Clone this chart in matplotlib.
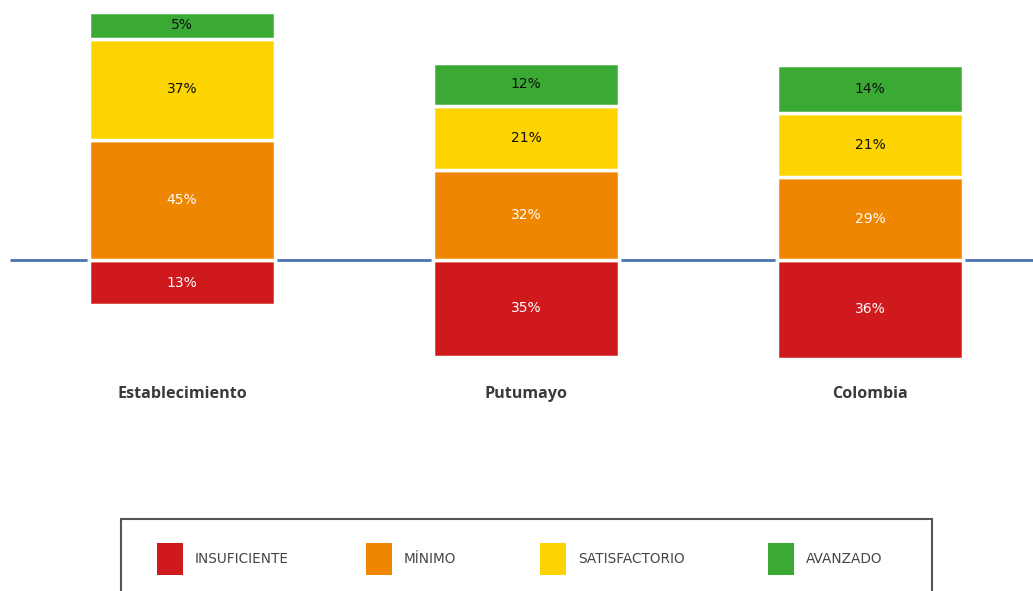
import matplotlib
matplotlib.use("Agg")
import matplotlib.pyplot as plt
from matplotlib.patches import Rectangle

# datos
categorias = ["Establecimiento", "Putumayo", "Colombia"]
niveles = ["INSUFICIENTE", "MÍNIMO", "SATISFACTORIO", "AVANZADO"]
insuficiente = [13, 35, 36]
minimo = [45, 32, 29]
satisfactorio = [37, 21, 21]
avanzado = [5, 12, 14]

colores = ["#D0191C", "#EE8600", "#FDD400", "#3BAA35"]
color_texto = ["white", "white", "#111111", "#111111"]
PAD = 6.6   # relleno minimo de cada segmento (estilo del original)
COND = ["Liberation Sans Narrow", "DejaVu Sans"]

fig = plt.figure(figsize=(10.33, 5.91), dpi=100)
ax = fig.add_axes([0, 0, 1, 1])
ax.set_xlim(-0.529, 2.474)
ax.set_ylim(-142.4, 111.8)
ax.axis("off")

x = list(range(len(categorias)))
ancho = 0.541

# linea base
ax.plot([-0.50, 2.474], [0, 0], color="#4A74B0", lw=2, zorder=1,
        solid_capstyle="butt")

# insuficiente hacia abajo
for i in x:
    h = insuficiente[i] + PAD
    ax.bar(i, -h, width=ancho, color=colores[0], edgecolor="white",
           linewidth=2.5, zorder=2)
    ax.text(i, -h / 2, f"{insuficiente[i]}%", ha="center", va="center",
            color=color_texto[0], fontsize=10, family=COND, zorder=3)

# resto apilado hacia arriba
arriba = [minimo, satisfactorio, avanzado]
for i in x:
    base = 0
    for k, serie in enumerate(arriba, start=1):
        h = serie[i] + PAD
        ax.bar(i, h, bottom=base, width=ancho, color=colores[k],
               edgecolor="white", linewidth=2.5, zorder=2)
        ax.text(i, base + h / 2, f"{serie[i]}%", ha="center", va="center",
                color=color_texto[k], fontsize=10, family=COND, zorder=3)
        base += h

# nombres de categorias
for i, nombre in zip(x, categorias):
    ax.text(i, -57.5, nombre, ha="center", va="center", fontsize=11.6,
            fontweight="bold", color="#3a3a3a", family="Open Sans")

# leyenda manual
W, H = 1033.0, 591.0
fig.patches.append(Rectangle((121 / W, -0.05), 811 / W, 0.05 + 1 - 519 / H,
                             transform=fig.transFigure, facecolor="white",
                             edgecolor="#555555", linewidth=1.5, zorder=0))
ley_x = [157, 366, 540, 768]
for px, nivel, c in zip(ley_x, niveles, colores):
    fig.patches.append(Rectangle((px / W, 1 - 575 / H), 26 / W, 32 / H,
                                 transform=fig.transFigure, facecolor=c,
                                 edgecolor="none", zorder=1))
    fig.text((px + 38) / W, 1 - 559 / H, nivel, ha="left", va="center",
             fontsize=9.8, color="#444444", family=COND)

plt.savefig("out.png", dpi=100, facecolor="white")
